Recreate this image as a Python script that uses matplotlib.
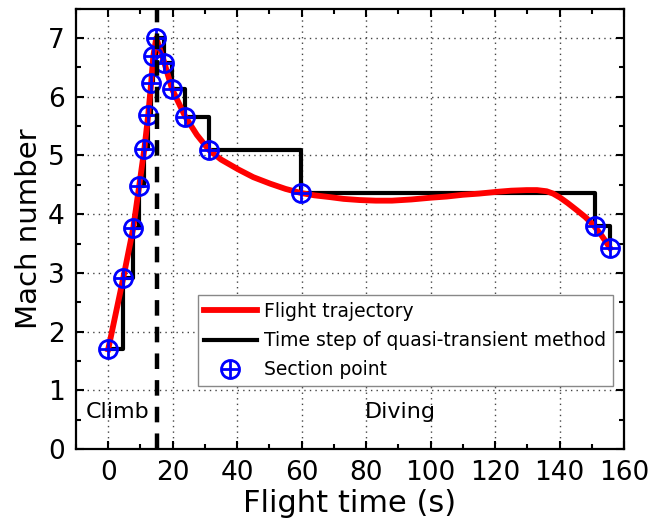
import matplotlib
matplotlib.use("Agg")
import matplotlib.pyplot as plt
from matplotlib.path import Path
from matplotlib.ticker import MultipleLocator

# section points (time, Mach)
sec_t = [0, 4.65, 7.75, 9.6, 11.2, 12.4, 13.3, 14.0, 14.9, 17.4, 19.8, 23.9, 31.3, 59.8, 151.0, 155.7]
sec_m = [1.70, 2.91, 3.76, 4.48, 5.11, 5.69, 6.23, 6.70, 7.00, 6.58, 6.13, 5.66, 5.09, 4.36, 3.80, 3.42]

# flight trajectory
traj_t = [0, 4.65, 7.75, 9.6, 11.2, 12.4, 13.3, 14.0, 14.9, 17.4, 19.8, 23.9, 27.5, 31.3, 35, 40.4, 45,
          50.2, 55, 59.8, 64, 68.8, 73, 78, 83, 88, 94, 100, 105, 110, 115, 120.5, 125, 129.8, 133,
          136, 138, 140.2, 142.5, 145.3, 148, 150.4, 153, 155.7]
traj_m = [1.70, 2.91, 3.76, 4.48, 5.11, 5.69, 6.23, 6.70, 7.00, 6.58, 6.13, 5.66, 5.35, 5.09, 4.93, 4.76, 4.63,
          4.52, 4.43, 4.36, 4.32, 4.29, 4.26, 4.24, 4.23, 4.23, 4.25, 4.28, 4.30, 4.33, 4.35, 4.38, 4.40, 4.41, 4.41,
          4.39, 4.35, 4.28, 4.19, 4.07, 3.95, 3.82, 3.64, 3.42]

split_t = 15

plt.rcParams['font.family'] = ['DejaVu Sans']

fig = plt.figure(figsize=(6.54, 5.28), dpi=100)
ax = fig.add_axes([0.1162, 0.1496, 0.838, 0.834])

ax.plot(traj_t, traj_m, color='red', lw=4.2, label='Flight trajectory', zorder=3)
ax.step(sec_t, sec_m, where='post', color='black', lw=3.0,
        label='Time step of quasi-transient method', zorder=2)

# circle with cross marker
circ = Path.unit_circle()
cross = Path([(-1, 0), (1, 0), (0, -1), (0, 1)],
             [Path.MOVETO, Path.LINETO, Path.MOVETO, Path.LINETO])
oplus = Path.make_compound_path(circ, cross)
ax.plot(sec_t, sec_m, ls='none', marker=oplus, ms=13, mfc='none', mec='blue', mew=2.0,
        label='Section point', zorder=4)

ax.axvline(split_t, color='black', lw=3.2, ls=(0, (3.5, 2.5)), zorder=5)

ax.text(2.8, 0.63, 'Climb', fontsize=16, ha='center', va='center')
ax.text(90.5, 0.63, 'Diving', fontsize=16, ha='center', va='center')

ax.set_xlim(-10, 160)
ax.set_ylim(0, 7.5)
ax.xaxis.set_major_locator(MultipleLocator(20))
ax.xaxis.set_minor_locator(MultipleLocator(10))
ax.yaxis.set_major_locator(MultipleLocator(1))
ax.yaxis.set_minor_locator(MultipleLocator(0.5))
ax.tick_params(which='both', direction='in', top=True, right=True, width=1.5)
ax.tick_params(which='major', length=6, labelsize=19, pad=8)
ax.tick_params(which='minor', length=3.5)
for s in ax.spines.values():
    s.set_linewidth(1.6)
ax.grid(True, which='major', ls=(0, (1, 3)), color='#444444', lw=1.0)

ax.set_xlabel('Flight time (s)', fontsize=22, labelpad=2)
ax.set_ylabel('Mach number', fontsize=21, labelpad=4)

leg = ax.legend(loc='lower left', bbox_to_anchor=(0.222, 0.143), borderaxespad=0, fontsize=13.5,
                handlelength=2.8, handletextpad=0.4, labelspacing=0.55,
                borderpad=0.35, fancybox=False, framealpha=1, edgecolor='#888888')
leg.get_frame().set_linewidth(1.0)

fig.savefig('out.png', dpi=100)
